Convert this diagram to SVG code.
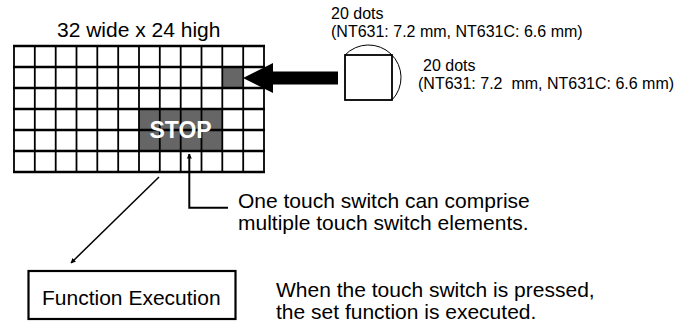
<svg xmlns="http://www.w3.org/2000/svg" width="683" height="322" viewBox="0 0 683 322">
<style>
text{font-family:"Liberation Sans",Arial,sans-serif;fill:#000}
.big{font-size:21px}
.sm{font-size:16px}
.hl{stroke:#000;stroke-width:2.3}
.vl{stroke:#000;stroke-width:1.8}
.ln{stroke:#000;stroke-width:1.5;fill:none}
</style>
<defs>
<marker id="ah" viewBox="0 0 10 10" refX="9" refY="5" markerWidth="5" markerHeight="6" orient="auto" markerUnits="userSpaceOnUse">
<path d="M0,0 L10,5 L0,10 z" fill="#000"/>
</marker>
</defs>
<text class="big" x="57" y="37">32 wide x 24 high</text>
<g id="grid">
<rect x="222.3" y="67" width="20.9" height="21" fill="#666"/>
<rect x="139" y="109" width="83.3" height="42" fill="#666"/>
<g class="vl">
<line x1="14" y1="46" x2="14" y2="172"/>
<line x1="34.8" y1="46" x2="34.8" y2="172"/>
<line x1="55.7" y1="46" x2="55.7" y2="172"/>
<line x1="76.5" y1="46" x2="76.5" y2="172"/>
<line x1="97.3" y1="46" x2="97.3" y2="172"/>
<line x1="118.2" y1="46" x2="118.2" y2="172"/>
<line x1="139" y1="46" x2="139" y2="172"/>
<line x1="159.8" y1="46" x2="159.8" y2="172"/>
<line x1="180.7" y1="46" x2="180.7" y2="172"/>
<line x1="201.5" y1="46" x2="201.5" y2="172"/>
<line x1="222.3" y1="46" x2="222.3" y2="172"/>
<line x1="243.2" y1="46" x2="243.2" y2="172"/>
<line x1="264" y1="46" x2="264" y2="172"/>
</g>
<g class="hl">
<line x1="13" y1="46" x2="265" y2="46"/>
<line x1="13" y1="67" x2="265" y2="67"/>
<line x1="13" y1="88" x2="265" y2="88"/>
<line x1="13" y1="109" x2="265" y2="109"/>
<line x1="13" y1="130" x2="265" y2="130"/>
<line x1="13" y1="151" x2="265" y2="151"/>
<line x1="13" y1="172" x2="265" y2="172"/>
</g>
<text x="180.6" y="138.3" text-anchor="middle" style="font-size:23px;font-weight:bold;fill:#fff">STOP</text>
</g>
<g id="element">
<rect x="345" y="55" width="47" height="45" fill="none" stroke="#000" stroke-width="1.8"/>
<path d="M345,55 A32.5,32.5 0 0 1 392,100" fill="none" stroke="#000" stroke-width="1"/>
<text class="sm" x="331" y="19">20 dots</text>
<text class="sm" x="331" y="37">(NT631: 7.2 mm, NT631C: 6.6 mm)</text>
<text class="sm" x="423" y="71">20 dots</text>
<text class="sm" x="418" y="89" xml:space="preserve">(NT631: 7.2  mm, NT631C: 6.6 mm)</text>
</g>
<g id="note1">
<text class="big" x="238" y="208">One touch switch can comprise</text>
<text class="big" x="238" y="230">multiple touch switch elements.</text>
</g>
<g id="func">
<rect x="28.5" y="271" width="207" height="48" fill="none" stroke="#000" stroke-width="2.2"/>
<text class="big" x="42" y="305">Function Execution</text>
</g>
<g id="note2">
<text class="big" x="276" y="297">When the touch switch is pressed,</text>
<text class="big" x="276" y="319">the set function is executed.</text>
</g>
<g id="connectors">
<polygon points="243,78 273,63 273,71.5 338,71.5 338,84.5 273,84.5 273,93" fill="#000"/>
<polyline points="228,207.7 189.3,207.7 189.3,154" fill="none" stroke="#000" stroke-width="2" marker-end="url(#ah)"/>
<line x1="159" y1="177" x2="71" y2="263" class="ln" marker-end="url(#ah)"/>
</g>
</svg>
